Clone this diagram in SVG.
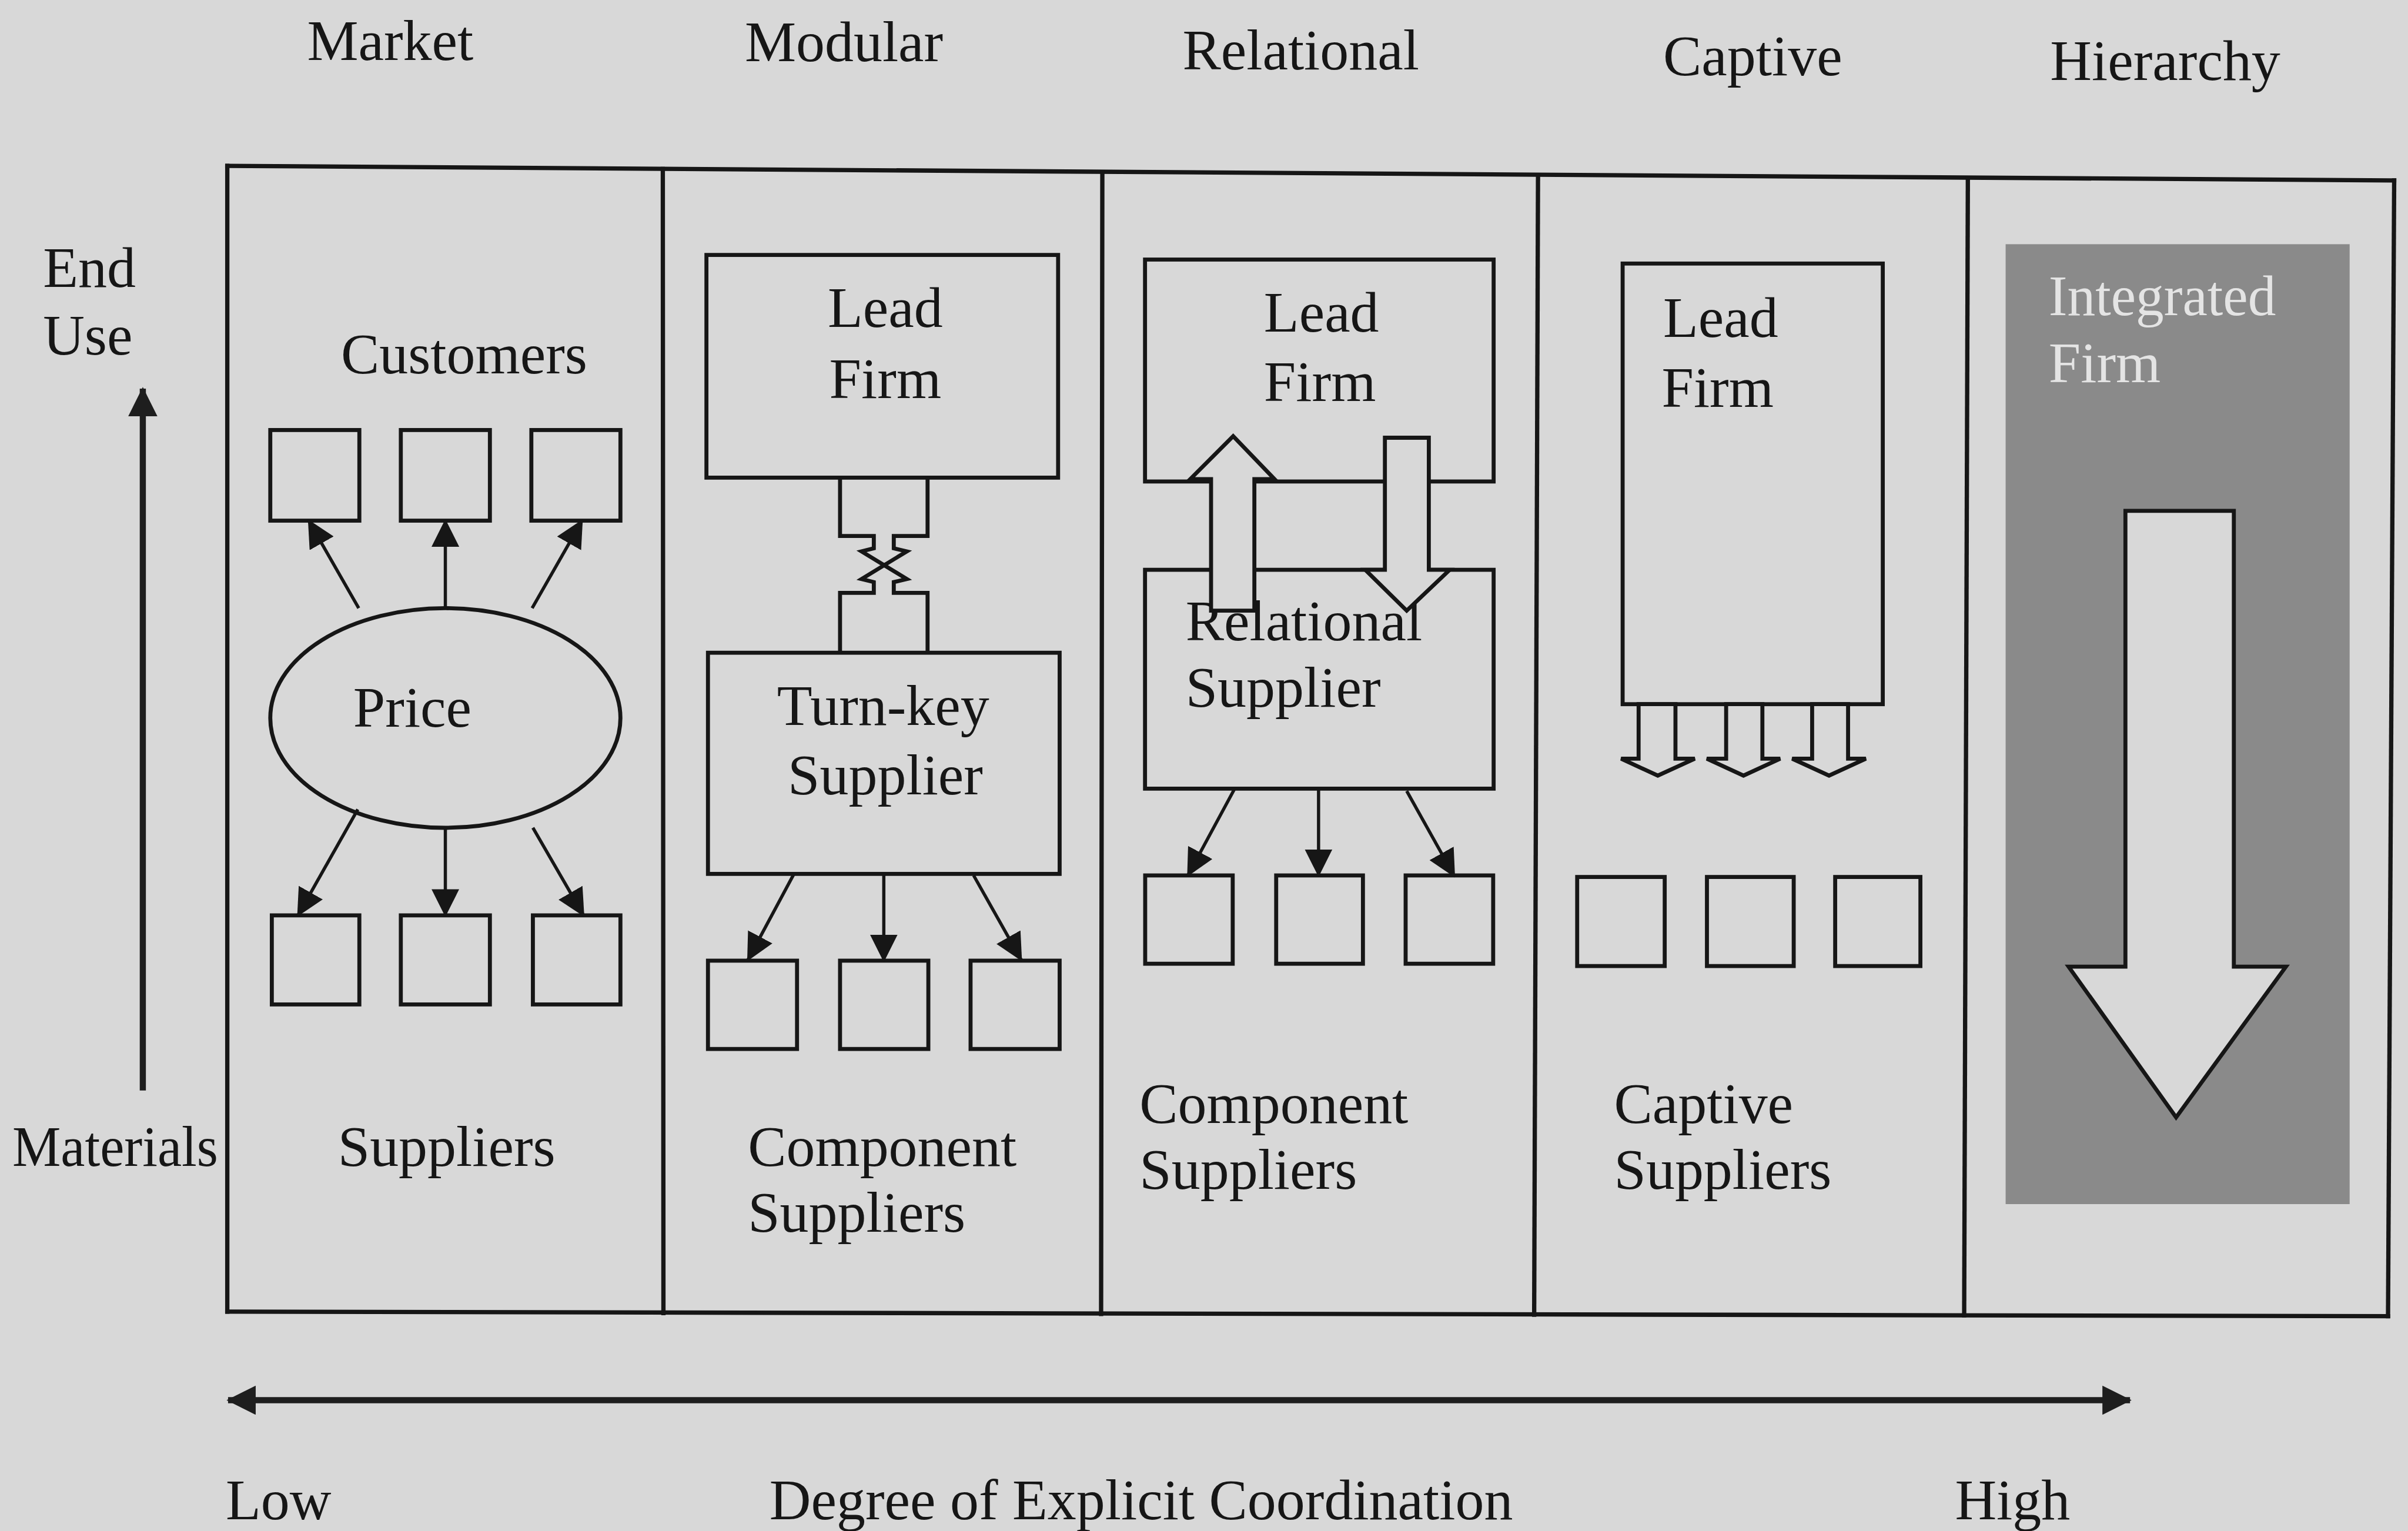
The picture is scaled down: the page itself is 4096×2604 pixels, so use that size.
<svg xmlns="http://www.w3.org/2000/svg" width="4096" height="2604" viewBox="0 0 4096 2604">
  <defs>
    <style>
      .t { font-family: "Liberation Serif", "Times New Roman", serif; font-size: 37.5px; fill: #161616; }
      .tw { font-family: "Liberation Serif", "Times New Roman", serif; font-size: 37.5px; fill: #e4e4e4; }
      .frame { fill: none; stroke: #161616; stroke-width: 2.8; stroke-linecap: square; }
      .box { fill: none; stroke: #161616; stroke-width: 2.6; }
      .link { fill: none; stroke: #161616; stroke-width: 2.1; }
      .block { fill: #d8d8d8; stroke: #161616; stroke-width: 2.6; stroke-linejoin: miter; }
      .axis { fill: none; stroke: #1e1e1e; stroke-width: 4; }
    </style>
    <marker id="head" viewBox="0 0 18 18" refX="17" refY="9" markerWidth="18" markerHeight="18" markerUnits="userSpaceOnUse" orient="auto">
      <path d="M0,0 L18,9 L0,18 Z" fill="#161616"/>
    </marker>
    <marker id="axisHead" viewBox="0 0 19 19" refX="18" refY="9.5" markerWidth="19" markerHeight="19" markerUnits="userSpaceOnUse" orient="auto-start-reverse">
      <path d="M0,0 L19,9.5 L0,19 Z" fill="#1e1e1e"/>
    </marker>
  </defs>

  <rect width="4096" height="2604" fill="#d8d8d8"/>

  <g transform="scale(2.61224)">
    <!-- column headings -->
    <g id="headings">
      <text class="t" x="200" y="39">Market</text>
      <text class="t" x="485" y="40">Modular</text>
      <text class="t" x="770" y="45">Relational</text>
      <text class="t" x="1083" y="49">Captive</text>
      <text class="t" x="1335" y="52">Hierarchy</text>
    </g>

    <!-- vertical axis: materials to end use -->
    <g id="value-axis">
      <text class="t" x="28" y="187">End</text>
      <text class="t" x="28" y="231">Use</text>
      <text class="t" x="8" y="759" textLength="134" lengthAdjust="spacingAndGlyphs">Materials</text>
    </g>

    <!-- outer frame and column dividers -->
    <g id="frame">
      <line class="frame" x1="148" y1="108" x2="1559" y2="117.5"/>
      <line class="frame" x1="148" y1="108" x2="148" y2="854"/>
      <line class="frame" x1="1559" y1="117.5" x2="1555" y2="857"/>
      <line class="frame" x1="148" y1="854" x2="1555" y2="857"/>
      <line class="frame" x1="431.6" y1="110" x2="432" y2="855"/>
      <line class="frame" x1="717.8" y1="112" x2="717" y2="855.5"/>
      <line class="frame" x1="1001.5" y1="114" x2="999" y2="856"/>
      <line class="frame" x1="1281.4" y1="116" x2="1279" y2="856.5"/>
    </g>

    <!-- Market -->
    <g id="market">
      <text class="t" x="222" y="243">Customers</text>
      <rect class="box" x="176" y="280" width="58" height="59"/>
      <rect class="box" x="261" y="280" width="58" height="59"/>
      <rect class="box" x="346" y="280" width="58" height="59"/>
      <ellipse class="box" cx="290" cy="467.5" rx="114" ry="71.5"/>
      <text class="t" x="230" y="473">Price</text>
      <rect class="box" x="177" y="596" width="57" height="58"/>
      <rect class="box" x="261" y="596" width="58" height="58"/>
      <rect class="box" x="347" y="596" width="57" height="58"/>
      <text class="t" x="220" y="759">Suppliers</text>
    </g>

    <!-- Modular -->
    <g id="modular">
      <rect class="box" x="460" y="166" width="229" height="145"/>
      <text class="t" x="539" y="213">Lead</text>
      <text class="t" x="540" y="259">Firm</text>
      <rect class="box" x="461" y="425" width="229" height="144"/>
      <text class="t" x="506" y="472">Turn-key</text>
      <text class="t" x="513" y="517">Supplier</text>
      <rect class="box" x="461" y="625.5" width="58" height="57.5"/>
      <rect class="box" x="547" y="625.5" width="57.5" height="57.5"/>
      <rect class="box" x="632" y="625.5" width="58" height="57.5"/>
      <text class="t" x="487" y="759">Component</text>
      <text class="t" x="487" y="802">Suppliers</text>
    </g>

    <!-- Relational -->
    <g id="relational">
      <rect class="box" x="745.6" y="169" width="227" height="144.5"/>
      <text class="t" x="823" y="216">Lead</text>
      <text class="t" x="823" y="261">Firm</text>
      <rect class="box" x="745.6" y="371" width="227" height="142.5"/>
      <text class="t" x="772" y="417">Relational</text>
      <text class="t" x="772" y="460">Supplier</text>
      <rect class="box" x="745.7" y="570" width="57" height="57.5"/>
      <rect class="box" x="831" y="570" width="56.5" height="57.5"/>
      <rect class="box" x="915.3" y="570" width="57" height="57.5"/>
      <text class="t" x="742" y="731">Component</text>
      <text class="t" x="742" y="774">Suppliers</text>
    </g>

    <!-- Captive -->
    <g id="captive">
      <rect class="box" x="1056.6" y="171.6" width="169.4" height="286.9"/>
      <text class="t" x="1083" y="219.5">Lead</text>
      <text class="t" x="1082" y="265">Firm</text>
      <rect class="box" x="1027" y="571" width="57" height="58"/>
      <rect class="box" x="1111.5" y="571" width="56.5" height="58"/>
      <rect class="box" x="1195" y="571" width="55.5" height="58"/>
      <text class="t" x="1051" y="731">Captive</text>
      <text class="t" x="1051" y="774">Suppliers</text>
    </g>

    <!-- Hierarchy -->
    <g id="hierarchy">
      <rect x="1306" y="159" width="224" height="625" fill="#8a8a8a"/>
      <text class="tw" x="1334" y="205" textLength="148" lengthAdjust="spacingAndGlyphs">Integrated</text>
      <text class="tw" x="1334" y="249">Firm</text>
      <polygon class="block" points="1384,332.6 1454.6,332.6 1454.6,629.4 1488.5,629.4 1417,727.5 1347,629.4 1384,629.4"/>
    </g>

    <!-- links between the firms and their suppliers -->
    <g id="connectors">
      <!-- market: price to customers and suppliers -->
      <line class="link" x1="233.6" y1="396" x2="201" y2="339" marker-end="url(#head)"/>
      <line class="link" x1="290" y1="396" x2="290" y2="339" marker-end="url(#head)"/>
      <line class="link" x1="346.5" y1="396" x2="379" y2="339" marker-end="url(#head)"/>
      <line class="link" x1="233" y1="527" x2="194" y2="596" marker-end="url(#head)"/>
      <line class="link" x1="290" y1="539" x2="290" y2="596" marker-end="url(#head)"/>
      <line class="link" x1="347" y1="539" x2="380" y2="596" marker-end="url(#head)"/>

      <!-- modular: interlocking interface between lead firm and turn-key supplier -->
      <polyline class="box" points="547,311 547,349 569,349 569,357 561,359 590.5,377 582,379 582,386 604,386 604,425"/>
      <polyline class="box" points="604,311 604,349 582,349 582,357 590.5,359 561,377 569,379 569,386 547,386 547,425"/>
      <line class="link" x1="517" y1="569" x2="487" y2="625" marker-end="url(#head)"/>
      <line class="link" x1="575.5" y1="569" x2="575.5" y2="625.5" marker-end="url(#head)"/>
      <line class="link" x1="634" y1="570" x2="665" y2="625" marker-end="url(#head)"/>

      <!-- relational: two-way exchange -->
      <polygon class="block" points="788.6,397.6 788.6,312 775,312 803,284 830,312 816.8,312 816.8,397.6"/>
      <polygon class="block" points="901.8,285 930.4,285 930.4,371 944,371 916,397.6 889,371 901.8,371"/>
      <line class="link" x1="803.7" y1="514" x2="773.5" y2="570" marker-end="url(#head)"/>
      <line class="link" x1="858.6" y1="514" x2="858.6" y2="570" marker-end="url(#head)"/>
      <line class="link" x1="916" y1="515" x2="947" y2="570.5" marker-end="url(#head)"/>

      <!-- captive: directives from the lead firm -->
      <polygon class="block" points="1067,458.5 1091,458.5 1091,494 1103.6,494 1079.5,505 1055.6,494 1067,494"/>
      <polygon class="block" points="1124,458.5 1147.6,458.5 1147.6,494 1159.2,494 1135.3,505 1111.4,494 1124,494"/>
      <polygon class="block" points="1180,458.5 1203.4,458.5 1203.4,494 1215,494 1191,505 1167,494 1180,494"/>

      <!-- value chain axis -->
      <line class="axis" x1="93" y1="710" x2="93" y2="253" stroke-width="2.8" marker-end="url(#axisHead)"/>
      <!-- coordination axis -->
      <line class="axis" x1="148.5" y1="911.7" x2="1387" y2="911.7" marker-start="url(#axisHead)" marker-end="url(#axisHead)"/>
    </g>

    <!-- coordination scale labels -->
    <g id="coordination-labels">
      <text class="t" x="147" y="989">Low</text>
      <text class="t" x="501" y="989">Degree of Explicit Coordination</text>
      <text class="t" x="1273" y="989">High</text>
    </g>
  </g>
</svg>
